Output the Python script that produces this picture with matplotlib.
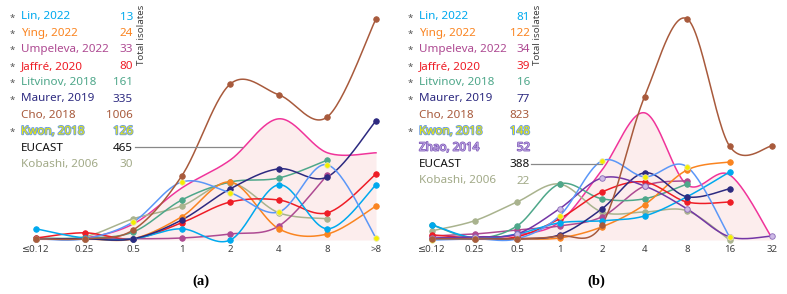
import numpy as np
import matplotlib
matplotlib.use("Agg")
import matplotlib.pyplot as plt
import matplotlib.patheffects as pe

plt.rcParams['font.family'] = ['Noto Sans', 'DejaVu Sans']

nan = np.nan

# ---- panel (a) ----
cats_a = ['\u22640.12', '0.25', '0.5', '1', '2', '4', '8', '>8']
lin_a      = [2.8, 0.5, 0.3, 2.8, 0.0, 13.8, 2.8, 13.8]
ying_a     = [0.3, 0.3, 0.3, 5.8, 14.5, 2.8, 1.5, 8.5]
umpeleva_a = [0.3, 0.3, 0.3, 0.5, 1.5, 3.5, 16.3, nan]
jaffre_a   = [0.5, 1.8, 0.3, 4.3, 9.5, 10.0, 6.8, 16.5]
litvinov_a = [0.5, 0.5, 2.0, 10.0, 14.5, 15.5, 20.0, nan]
maurer_a   = [0.3, 0.3, 0.3, 5.0, 12.8, 17.8, 15.8, 29.8]
cho_a      = [0.3, 0.3, 2.5, 16.0, 39.0, 36.3, 30.8, 55.3]
kwon_a     = [0.3, 0.3, 4.5, 14.5, 11.8, 7.0, 18.8, 0.5]
kobashi_a  = [0.3, 0.8, 5.3, 8.5, 14.3, 6.8, 5.3, nan]
eucast_a   = [0.3, 0.5, 4.0, 13.0, 20.0, 30.3, 21.8, 21.8]

names_a = ['Lin, 2022', 'Ying, 2022', 'Umpeleva, 2022', 'Jaffré, 2020', 'Litvinov, 2018',
           'Maurer, 2019', 'Cho, 2018', 'Kwon, 2018', 'EUCAST', 'Kobashi, 2006']
totals_a = [13, 24, 33, 80, 161, 335, 1006, 126, 465, 30]
star_a = [1, 1, 1, 1, 1, 1, 0, 1, 0, 0]

# ---- panel (b) ----
cats_b = ['\u22640.12', '0.25', '0.5', '1', '2', '4', '8', '16', '32']
lin_b      = [3.8, 0.5, 1.5, 4.3, 4.8, 6.0, 10.8, 17.0, nan]
ying_b     = [0.3, 0.3, 0.3, 0.5, 3.3, 8.8, 17.5, 19.5, nan]
umpeleva_b = [1.0, 1.5, 2.5, 3.5, 5.8, 13.5, 14.8, nan, nan]
jaffre_b   = [1.3, 0.5, 0.8, 5.3, 12.0, 14.5, 9.5, 9.5, nan]
litvinov_b = [3.8, 0.5, 3.5, 14.0, 10.3, 10.3, 14.0, nan, nan]
maurer_b   = [0.3, 0.3, 0.3, 1.3, 7.8, 16.8, 10.8, 12.8, nan]
cho_b      = [0.3, 0.3, 0.3, 1.0, 3.8, 35.8, 55.3, 23.5, 23.5]
kwon_b     = [0.0, 0.3, 0.3, 6.0, 19.8, 15.8, 18.3, 0.8, nan]
zhao_b     = [0.5, 0.8, 1.5, 7.8, 15.5, 13.5, 7.8, 0.8, 1.0]
kobashi_b  = [2.3, 4.8, 9.5, 14.0, 7.0, 7.0, 7.3, 0.0, nan]
eucast_b   = [0.3, 0.5, 1.3, 4.5, 17.5, 31.8, 13.8, 16.3, 0.5]

names_b = ['Lin, 2022', 'Ying, 2022', 'Umpeleva, 2022', 'Jaffré, 2020', 'Litvinov, 2018',
           'Maurer, 2019', 'Cho, 2018', 'Kwon, 2018', 'Zhao, 2014', 'EUCAST', 'Kobashi, 2006']
totals_b = [81, 122, 34, 39, 16, 77, 823, 148, 52, 388, 22]
star_b = [1, 1, 1, 1, 1, 1, 0, 1, 0, 0, 0]

# colours
C = {
    'Lin': '#00A9EE', 'Ying': '#FA8420', 'Umpeleva': '#AE4A92', 'Jaffré': '#EE1D26',
    'Litvinov': '#4EA78A', 'Maurer': '#2D2A80', 'Cho': '#A85A3C', 'Kwon': '#5B97F8',
    'Kobashi': '#A9B38E', 'Zhao': '#7436A6', 'EUCAST': '#F0349A',
}
W, H = 787, 294


def smooth(x, y, n=30):
    # excel-like smoothed line (catmull-rom as bezier)
    p = np.column_stack([x, y])
    out = [p[0]]
    for i in range(len(p) - 1):
        p0 = p[i - 1] if i > 0 else p[i]
        p1, p2 = p[i], p[i + 1]
        p3 = p[i + 2] if i + 2 < len(p) else p[i + 1]
        c1 = p1 + (p2 - p0) / 6
        c2 = p2 - (p3 - p1) / 6
        t = np.linspace(0, 1, n)[1:, None]
        seg = (1 - t) ** 3 * p1 + 3 * (1 - t) ** 2 * t * c1 + 3 * (1 - t) * t ** 2 * c2 + t ** 3 * p2
        out.extend(seg)
    out = np.array(out)
    return out[:, 0], out[:, 1]


def series(ax, vals, col, mfc=None, mec=None, z=3):
    v = np.array(vals, dtype=float)
    x = np.arange(len(v))[~np.isnan(v)]
    v = v[~np.isnan(v)]
    sx, sy = smooth(x, v)
    ax.plot(sx, sy, color=col, lw=1.1, zorder=z)
    ax.plot(x, v, 'o', ms=4, mfc=mfc or col, mec=mec or col, mew=0.6, zorder=z + 0.1)


def panel(rect, cats, data, eucast):
    ax = fig.add_axes(rect)
    xs = np.arange(len(eucast))
    sx, sy = smooth(xs, np.array(eucast))
    ax.fill_between(sx, 0, sy, color='#FCEDED', lw=0, zorder=1)
    ax.plot(sx, sy, color=C['EUCAST'], lw=1.1, zorder=2)
    for vals, col, mfc, mec in data:
        series(ax, vals, col, mfc, mec)
    ax.set_xlim(-0.2, len(cats) - 1 + 0.2)
    ax.set_ylim(-1, 58)
    ax.set_xticks(xs)
    ax.set_xticklabels(cats, fontsize=7, color='#404040')
    ax.tick_params(axis='x', length=0, pad=1)
    ax.set_yticks([])
    for s in ax.spines.values():
        s.set_visible(False)
    ax.patch.set_alpha(0)
    return ax


def ftext(x, y, s, **kw):
    fig.text(x / W, 1 - y / H, s, va='center', **kw)


fig = plt.figure(figsize=(W / 100, H / 100), dpi=100)

data_a = [
    (kobashi_a, C['Kobashi'], None, None),
    (umpeleva_a, C['Umpeleva'], None, None),
    (litvinov_a, C['Litvinov'], None, None),
    (ying_a, C['Ying'], None, None),
    (jaffre_a, C['Jaffré'], None, None),
    (lin_a, C['Lin'], None, None),
    (maurer_a, C['Maurer'], None, None),
    (kwon_a, C['Kwon'], '#F5EE00', '#E8E8B0'),
    (cho_a, C['Cho'], None, None),
]
data_b = [
    (kobashi_b, C['Kobashi'], None, None),
    (umpeleva_b, C['Umpeleva'], None, None),
    (litvinov_b, C['Litvinov'], None, None),
    (ying_b, C['Ying'], None, None),
    (jaffre_b, C['Jaffré'], None, None),
    (lin_b, C['Lin'], None, None),
    (maurer_b, C['Maurer'], None, None),
    (zhao_b, C['Zhao'], '#CDB9E6', '#8A6AB8'),
    (kwon_b, C['Kwon'], '#F5EE00', '#E8E8B0'),
    (cho_b, C['Cho'], None, None),
]

# axes placed so the categories sit where the reference puts them
sp_a = (376 - 36) / 7
sp_b = (772 - 432) / 8
bot, top = 244, 8
panel([(36 - 0.2 * sp_a) / W, (H - bot) / H, 7.4 * sp_a / W, (bot - top) / H], cats_a, data_a, eucast_a)
panel([(432 - 0.2 * sp_b) / W, (H - bot) / H, 8.4 * sp_b / W, (bot - top) / H], cats_b, data_b, eucast_b)


def legend(names, totals, stars, x_star, x_name, x_num, y0):
    fs = 8.4
    for i, (nm, tot, st) in enumerate(zip(names, totals, stars)):
        y = y0 + i * 16.4
        key = nm.split(',')[0]
        col = C.get(key, '#000000') if key != 'EUCAST' else '#111111'
        kw = dict(fontsize=fs, color=col)
        if key == 'Kwon':
            kw = dict(fontsize=fs, color='#F2EC00',
                      path_effects=[pe.withStroke(linewidth=1.3, foreground='#6E9FE0')])
        if key == 'Zhao':
            kw = dict(fontsize=fs, color='#C0A8E4', fontweight='bold',
                      path_effects=[pe.withStroke(linewidth=1.0, foreground='#7A55B5')])
        if key == 'Kobashi':
            kw['color'] = '#A2AA88'
        if st:
            ftext(x_star, y + 1, '*', fontsize=7, color='#555555', ha='center')
        ftext(x_name, y, nm, ha='left', **kw)
        ftext(x_num, y, str(tot), ha='right', **kw)


legend(names_a, totals_a, star_a, 12, 21, 133, 17)
legend(names_b, totals_b, star_b, 410, 419, 530, 17)

# total isolates labels
fig.text(141 / W, 1 - 65 / H, 'Total isolates', rotation=90, fontsize=7, color='#404040',
         ha='center', va='bottom')
fig.text(538 / W, 1 - 65 / H, 'Total isolates', rotation=90, fontsize=7, color='#404040',
         ha='center', va='bottom')

# EUCAST leader lines
fig.add_artist(plt.Line2D([135 / W, 242 / W], [1 - 147 / H] * 2, color='#888888', lw=0.9))
fig.add_artist(plt.Line2D([531 / W, 602 / W], [1 - 164 / H] * 2, color='#888888', lw=0.9))

fig.text(201 / W, 1 - 281 / H, '(a)', fontsize=10.5, fontweight='bold', family='Liberation Serif',
         ha='center', va='center')
fig.text(596 / W, 1 - 281 / H, '(b)', fontsize=10.5, fontweight='bold', family='Liberation Serif',
         ha='center', va='center')

fig.savefig('out.png', dpi=100, facecolor='white')
